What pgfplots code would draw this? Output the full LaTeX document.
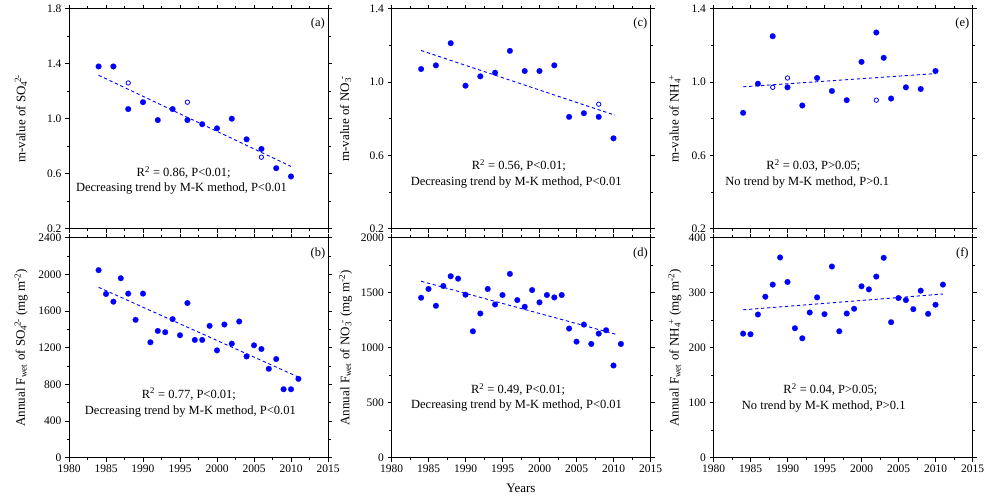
\documentclass[border=0pt]{standalone}
\usepackage{fontspec}
\setmainfont{Liberation Serif}
\usepackage{pgfplots}
\pgfplotsset{compat=1.18}
\definecolor{pblue}{RGB}{0,0,255}
\tikzset{
  ann/.style={font=\fontsize{12.5}{15}\selectfont, anchor=center},
  plab/.style={font=\fontsize{12.5}{15}\selectfont, anchor=center},
}
\pgfplotsset{
  common/.style={
    scale only axis, width=259pt, height=220pt, anchor=south west,
    xmin=1980, xmax=2015, xtick={1980,1985,...,2015},
    minor x tick num=1, minor y tick num=1,
    tick align=outside, major tick length=4pt, minor tick length=2.5pt,
    axis line style={line width=0.9pt},
    tick style={black, line width=0.8pt},
    tick label style={font=\fontsize{11.5}{13}\selectfont},
    label style={font=\fontsize{13}{15}\selectfont},
    /pgf/number format/assume math mode=true,
    /pgf/number format/1000 sep={},
    clip mode=individual,
  },
  toprow/.style={xticklabels={}},
  dec/.style={y tick label style={/pgf/number format/.cd, fixed, fixed zerofill, precision=1, /tikz/.cd}},
  fdot/.style={only marks, mark=*, mark size=2.9pt, color=pblue, mark options={fill=pblue, draw=pblue, line width=0.1pt}},
  odot/.style={only marks, mark=o, mark size=2.2pt, color=pblue, mark options={line width=0.8pt}},
  trend/.style={no marks, color=pblue, line width=0.9pt, dash pattern=on 3.3pt off 2.7pt},
}
\begin{document}
\begin{tikzpicture}
\useasboundingbox (0pt,0pt) rectangle (984pt,498pt);

% (a)
\begin{axis}[common, toprow, dec, at={(69pt,269.3pt)},
  ymin=0.2, ymax=1.8, ytick={0.2,0.6,1.0,1.4,1.8},
  ylabel={m-value of SO\textsubscript{4}\kern-0.12em\textsuperscript{2-}},
  ylabel style={at={(axis description cs:-0.185,0.5)}, anchor=center}]
\addplot[trend] coordinates {(1984,1.316) (2010,0.653)};
\addplot[fdot] coordinates {(1984,1.38) (1986,1.38) (1988,1.07) (1990,1.12) (1992,0.99) (1994,1.07) (1996,0.99) (1998,0.96) (2000,0.93) (2002,1.00) (2004,0.85) (2006,0.78) (2008,0.64) (2010,0.58)};
\addplot[odot] coordinates {(1988,1.26) (1996,1.12) (2006,0.72)};
\node[ann] at (axis cs:1995.5,0.606) {R\textsuperscript{2} = 0.86, P<0.01;};
\node[ann] at (axis cs:1995.2,0.489) {Decreasing trend by M-K method, P<0.01};
\node[plab] at (rel axis cs:0.961,0.932) {(a)};
\end{axis}

% (b)
\begin{axis}[common, at={(69pt,40.3pt)},
  ymin=0, ymax=2400, ytick={0,400,...,2400},
  ylabel={Annual F\textsubscript{wet} of SO\textsubscript{4}\kern-0.12em\textsuperscript{2-} (mg m\textsuperscript{-2})},
  ylabel style={at={(axis description cs:-0.185,0.5)}, anchor=center}]
\addplot[trend] coordinates {(1984,1859) (2011,880)};
\addplot[fdot] coordinates {(1984,2046) (1985,1786) (1986,1702) (1987,1958) (1988,1790) (1989,1504) (1990,1790) (1991,1259) (1992,1383) (1993,1369) (1994,1512) (1995,1336) (1996,1687) (1997,1285) (1998,1285) (1999,1438) (2000,1171) (2001,1453) (2002,1244) (2003,1486) (2004,1105) (2005,1226) (2006,1186) (2007,970) (2008,1076) (2009,747) (2010,747) (2011,860)};
\node[ann] at (axis cs:1996.2,695) {R\textsuperscript{2} = 0.77, P<0.01;};
\node[ann] at (axis cs:1996.4,501) {Decreasing trend by M-K method, P<0.01};
\node[plab] at (rel axis cs:0.961,0.93) {(b)};
\end{axis}

% (c)
\begin{axis}[common, toprow, dec, at={(391.5pt,269.3pt)},
  ymin=0.2, ymax=1.4, ytick={0.2,0.6,1.0,1.4},
  ylabel={m-value of NO\textsubscript{3}\kern-0.12em\textsuperscript{-}},
  ylabel style={at={(axis description cs:-0.177,0.5)}, anchor=center}]
\addplot[trend] coordinates {(1984,1.172) (2010.2,0.819)};
\addplot[fdot] coordinates {(1984,1.071) (1986,1.091) (1988,1.212) (1990,0.980) (1992,1.031) (1994,1.051) (1996,1.170) (1998,1.060) (2000,1.060) (2002,1.091) (2004,0.810) (2006,0.830) (2008,0.810) (2010,0.693)};
\addplot[odot] coordinates {(2008,0.879)};
\node[ann] at (axis cs:1997.2,0.545) {R\textsuperscript{2} = 0.56, P<0.01;};
\node[ann] at (axis cs:1996.85,0.454) {Decreasing trend by M-K method, P<0.01};
\node[plab] at (rel axis cs:0.961,0.932) {(c)};
\end{axis}

% (d)
\begin{axis}[common, at={(391.5pt,40.3pt)},
  ymin=0, ymax=2000, ytick={0,500,...,2000},
  ylabel={Annual F\textsubscript{wet} of NO\textsubscript{3}\kern-0.12em\textsuperscript{-} (mg m\textsuperscript{-2})},
  ylabel style={at={(axis description cs:-0.177,0.5)}, anchor=center},
  xlabel={Years},
  xlabel style={at={(axis description cs:0.5,-0.138)}, anchor=center}]
\addplot[trend] coordinates {(1984,1604) (2010.5,1119)};
\addplot[fdot] coordinates {(1984,1454) (1985,1534) (1986,1381) (1987,1561) (1988,1650) (1989,1628) (1990,1482) (1991,1149) (1992,1311) (1993,1534) (1994,1393) (1995,1479) (1996,1671) (1997,1433) (1998,1372) (1999,1524) (2000,1412) (2001,1479) (2002,1457) (2003,1479) (2004,1174) (2005,1055) (2006,1210) (2007,1034) (2008,1128) (2009,1159) (2010,838) (2011,1034)};
\node[ann] at (axis cs:1997.1,622) {R\textsuperscript{2} = 0.49, P<0.01;};
\node[ann] at (axis cs:1996.9,470) {Decreasing trend by M-K method, P<0.01};
\node[plab] at (rel axis cs:0.961,0.93) {(d)};
\end{axis}

% (e)
\begin{axis}[common, toprow, dec, at={(713.5pt,269.3pt)},
  ymin=0.2, ymax=1.4, ytick={0.2,0.6,1.0,1.4},
  ylabel={m-value of NH\textsubscript{4}\kern-0.12em\textsuperscript{+}},
  ylabel style={at={(axis description cs:-0.149,0.5)}, anchor=center}]
\addplot[trend] coordinates {(1984,0.974) (2010,1.046)};
\addplot[fdot] coordinates {(1984,0.832) (1986,0.991) (1988,1.250) (1990,0.971) (1992,0.872) (1994,1.022) (1996,0.951) (1998,0.901) (2000,1.110) (2002,1.270) (2003,1.132) (2004,0.910) (2006,0.971) (2008,0.962) (2010,1.060)};
\addplot[odot] coordinates {(1988,0.971) (1990,1.022) (2002,0.901)};
\node[ann] at (axis cs:1993.5,0.545) {R\textsuperscript{2} = 0.03, P>0.05;};
\node[ann] at (axis cs:1992.66,0.454) {No trend by M-K method, P>0.1};
\node[plab] at (rel axis cs:0.961,0.932) {(e)};
\end{axis}

% (f)
\begin{axis}[common, at={(713.5pt,40.3pt)},
  ymin=0, ymax=400, ytick={0,100,...,400},
  ylabel={Annual F\textsubscript{wet} of NH\textsubscript{4}\kern-0.12em\textsuperscript{+} (mg m\textsuperscript{-2})},
  ylabel style={at={(axis description cs:-0.149,0.5)}, anchor=center}]
\addplot[trend] coordinates {(1984,268.9) (2011,297.6)};
\addplot[fdot] coordinates {(1984,225.6) (1985,224.4) (1986,260.4) (1987,292.7) (1988,314.7) (1989,364.1) (1990,319.5) (1991,235.4) (1992,217.1) (1993,264.0) (1994,291.5) (1995,261.0) (1996,347.6) (1997,229.9) (1998,262.2) (1999,270.8) (2000,311.6) (2001,306.1) (2002,329.3) (2003,363.4) (2004,246.4) (2005,290.3) (2006,286.6) (2007,270.1) (2008,303.7) (2009,261.6) (2010,278.1) (2011,314.7)};
\node[ann] at (axis cs:1995.8,123.8) {R\textsuperscript{2} = 0.04, P>0.05;};
\node[ann] at (axis cs:1994.9,93.3) {No trend by M-K method, P>0.1};
\node[plab] at (rel axis cs:0.961,0.93) {(f)};
\end{axis}
\end{tikzpicture}
\end{document}
